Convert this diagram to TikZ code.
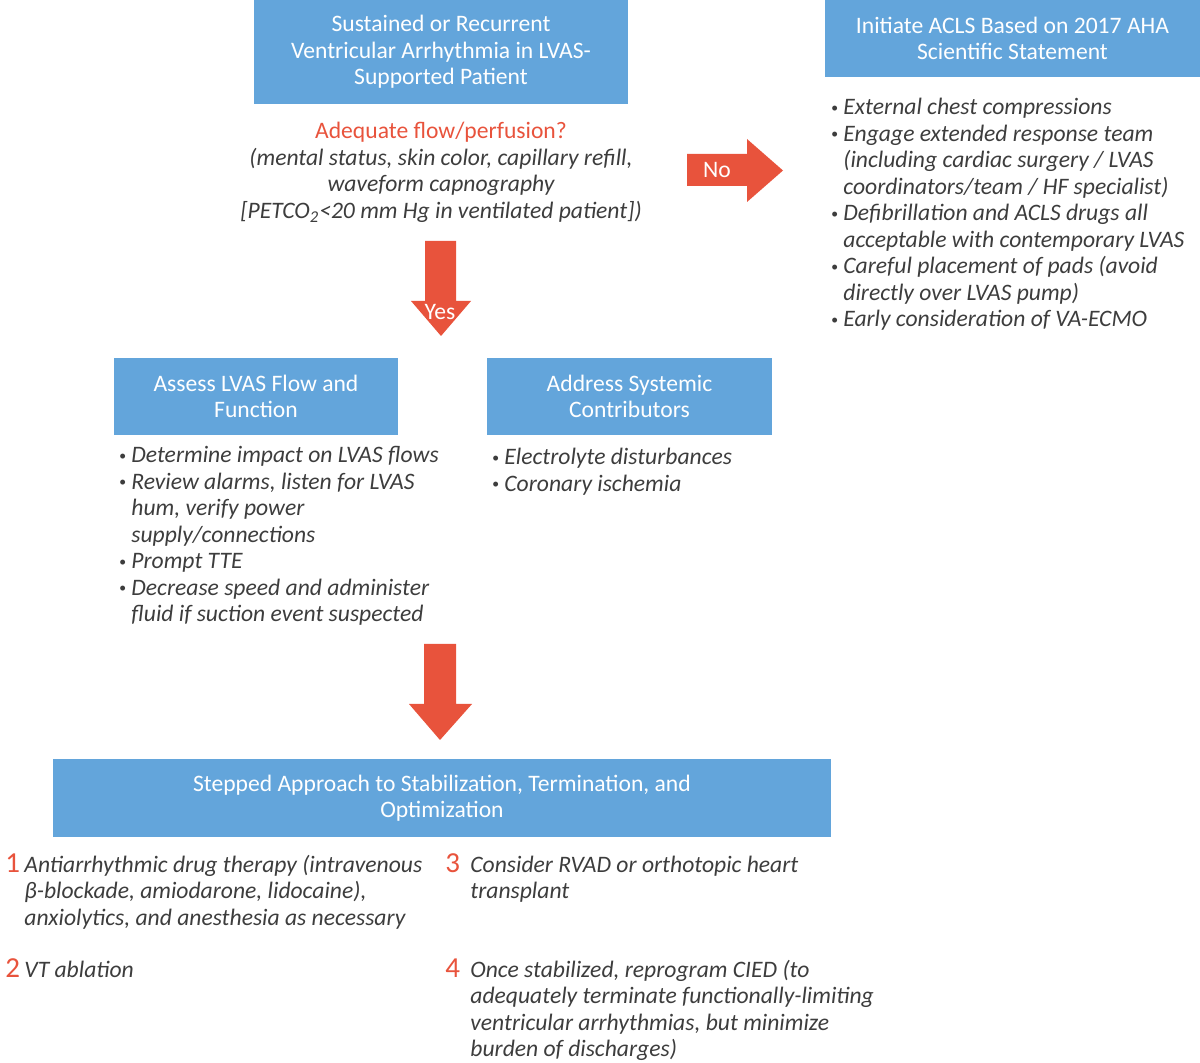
\documentclass[tikz,border=0pt]{standalone}
\usepackage{fontspec}
\setmainfont{Carlito}
\usetikzlibrary{calc}
\definecolor{boxblue}{HTML}{63A5DB}
\definecolor{alertred}{HTML}{E8533C}
\definecolor{textgray}{HTML}{3D3D3D}
\newcommand{\basefont}{\fontsize{11.8}{13.25}\selectfont}
\newcommand{\blt}{\makebox[7pt][l]{\hspace{0.8pt}\raisebox{1.3pt}{\scriptsize\textbullet}}}
\tikzstyle{bluebox}=[fill=boxblue, text=white, align=center, inner sep=0pt, font=\basefont]
\tikzstyle{list}=[text=textgray, font=\basefont\itshape, anchor=base west, inner sep=0pt]
\tikzstyle{stepnum}=[text=alertred, font=\fontsize{14.5}{15}\selectfont, anchor=base west, inner sep=0pt]
\tikzstyle{redarrow}=[fill=alertred]
\tikzstyle{arrowlabel}=[text=white, font=\basefont, inner sep=0pt]

\begin{document}
\begin{tikzpicture}[x=0.5pt, y=-0.5pt]

    \useasboundingbox (0,0) rectangle (1200,1063);

    % boxes
    \node[bluebox, minimum width=187pt, minimum height=52pt] (sus) at (441,52)
        {Sustained or Recurrent\\Ventricular Arrhythmia in LVAS-\\Supported Patient};
    \node[bluebox, minimum width=187.5pt, minimum height=38.5pt] (acls) at (1012.5,38.5)
        {Initiate ACLS Based on 2017 AHA\\Scientific Statement};
    \node[bluebox, minimum width=142pt, minimum height=38.5pt] (assess) at (256,396.5)
        {Assess LVAS Flow and\\Function};
    \node[bluebox, minimum width=142.5pt, minimum height=38.5pt] (address) at (629.5,396.5)
        {Address Systemic\\Contributors};
    \node[bluebox, minimum width=389pt, minimum height=39pt] (stepped) at (442,798)
        {Stepped Approach to Stabilization, Termination, and\\Optimization};

    % question
    \node[list, anchor=base] (quest) at (441,139) {\begin{tabular}[t]{@{}c@{}}
        \upshape\color{alertred}Adequate flow/perfusion?\\
        (mental status, skin color, capillary refill,\\
        waveform capnography\\
        {[}PETCO\textsubscript{2}<20 mm Hg in ventilated patient{]})
        \end{tabular}};

    % block arrows
    \fill[redarrow] (687,154) -- (747,154) -- (747,139) -- (783,170.5) -- (747,202) -- (747,186) -- (687,186) -- cycle;
    \node[arrowlabel] (no) at (717,170) {No};
    \fill[redarrow] (425,241) -- (456,241) -- (456,301) -- (471,301) -- (441,336) -- (411,301) -- (425,301) -- cycle;
    \node[arrowlabel] (yes) at (440,312) {Yes};
    \fill[redarrow] (424,644) -- (456,644) -- (456,704) -- (472,704) -- (440,740) -- (409,704) -- (424,704) -- cycle;

    % bullet lists
    \node[list] (aclslist) at (829,115) {\begin{tabular}[t]{@{}l@{}l@{}}
        \blt & External chest compressions\\
        \blt & Engage extended response team\\
             & (including cardiac surgery / LVAS\\
             & coordinators/team / HF specialist)\\
        \blt & Defibrillation and ACLS drugs all\\
             & acceptable with contemporary LVAS\\
        \blt & Careful placement of pads (avoid\\
             & directly over LVAS pump)\\
        \blt & Early consideration of VA-ECMO
        \end{tabular}};

    \node[list] (assesslist) at (117,463) {\begin{tabular}[t]{@{}l@{}l@{}}
        \blt & Determine impact on LVAS flows\\
        \blt & Review alarms, listen for LVAS\\
             & hum, verify power\\
             & supply/connections\\
        \blt & Prompt TTE\\
        \blt & Decrease speed and administer\\
             & fluid if suction event suspected
        \end{tabular}};

    \node[list] (addresslist) at (490,465) {\begin{tabular}[t]{@{}l@{}l@{}}
        \blt & Electrolyte disturbances\\
        \blt & Coronary ischemia
        \end{tabular}};

    % stepped approach
    \foreach \pos/\num in {{(5,872)/1}, {(5,977)/2}, {(445,872)/3}, {(445,977)/4}}
        \node[stepnum] (n\num) at \pos {\num};

    \node[list] (step1) at (24,872) {\begin{tabular}[t]{@{}l@{}}
        Antiarrhythmic drug therapy (intravenous\\
        β-blockade, amiodarone, lidocaine),\\
        anxiolytics, and anesthesia as necessary
        \end{tabular}};
    \node[list] (step2) at (24,977) {VT ablation};
    \node[list] (step3) at (470,872) {\begin{tabular}[t]{@{}l@{}}
        Consider RVAD or orthotopic heart\\
        transplant
        \end{tabular}};
    \node[list] (step4) at (470,977) {\begin{tabular}[t]{@{}l@{}}
        Once stabilized, reprogram CIED (to\\
        adequately terminate functionally-limiting\\
        ventricular arrhythmias, but minimize\\
        burden of discharges)
        \end{tabular}};

\end{tikzpicture}
\end{document}
